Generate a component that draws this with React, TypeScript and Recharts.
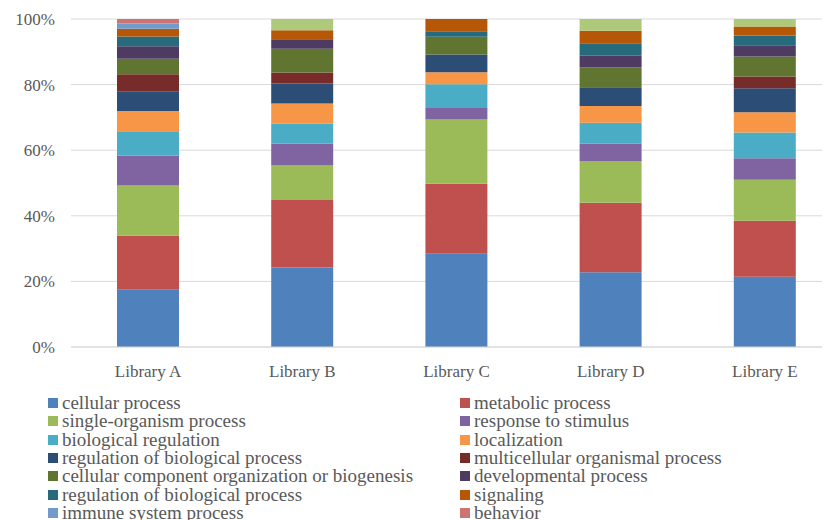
import { Bar, BarChart, CartesianGrid, Legend, XAxis, YAxis } from "recharts";

const categories = ["Library A", "Library B", "Library C", "Library D", "Library E"];

const cellularProcess = [17.4, 24.3, 28.4, 22.8, 21.4];
const metabolicProcess = [16.5, 20.6, 21.3, 21.2, 17.0];
const singleOrganismProcess = [15.3, 10.5, 19.6, 12.7, 12.5];
const responseToStimulus = [9.1, 6.7, 3.5, 5.3, 6.5];
const biologicalRegulation = [7.4, 6.0, 7.2, 6.4, 7.9];
const localization = [6.2, 6.2, 3.7, 5.1, 6.1];
const regulationOfBiologicalProcess = [6.0, 6.1, 5.4, 5.7, 7.3];
const multicellularOrganismalProcess = [5.2, 3.4, 0, 0, 3.6];
const cellularComponentOrganization = [4.7, 7.2, 5.4, 6.1, 6.1];
const developmentalProcess = [3.8, 2.9, 0, 3.5, 3.4];
const regulationOfBiologicalProcess2 = [3.0, 0, 1.7, 3.8, 3.0];
const signaling = [2.3, 2.8, 3.7, 3.8, 2.7];
const immuneSystemProcess = [1.6, 0, 0, 0, 0];
const behavior = [1.4, 0, 0, 0, 0];
const otherProcess = [0, 3.4, 0, 3.6, 2.3];

const yTicks = [0, 0.2, 0.4, 0.6, 0.8, 1];

const series = [
  { name: "cellular process", color: "#4F81BD", values: cellularProcess },
  { name: "metabolic process", color: "#C0504D", values: metabolicProcess },
  { name: "single-organism process", color: "#9BBB59", values: singleOrganismProcess },
  { name: "response to stimulus", color: "#8064A2", values: responseToStimulus },
  { name: "biological regulation", color: "#4BACC6", values: biologicalRegulation },
  { name: "localization", color: "#F79646", values: localization },
  { name: "regulation of biological process", color: "#2C4D75", values: regulationOfBiologicalProcess },
  { name: "multicellular organismal process", color: "#772C2A", values: multicellularOrganismalProcess },
  { name: "cellular component organization or biogenesis", color: "#5F7530", values: cellularComponentOrganization },
  { name: "developmental process", color: "#4D3B62", values: developmentalProcess },
  { name: "regulation of biological process", color: "#276A7C", values: regulationOfBiologicalProcess2 },
  { name: "signaling", color: "#B65708", values: signaling },
  { name: "immune system process", color: "#729ACA", values: immuneSystemProcess },
  { name: "behavior", color: "#CD7371", values: behavior },
  { name: "other", color: "#AFC97A", values: otherProcess },
];

const data = categories.map((cat, i) => {
  const row: Record<string, string | number> = { cat };
  series.forEach((s, j) => (row[`s${j}`] = s.values[i]));
  return row;
});

const FONT = "'Liberation Serif', serif";

const LegendBox = () => (
  <div
    style={{
      display: "grid",
      gridTemplateColumns: "412px 380px",
      paddingLeft: 40,
      height: 146,
      fontFamily: FONT,
      fontSize: 19,
      lineHeight: "18px",
      color: "#595959",
    }}
  >
    {series.map((s, i) => (
      <div key={i} style={{ display: "flex", alignItems: "center", height: 18.3, whiteSpace: "nowrap" }}>
        <span style={{ width: 10, height: 10, background: s.color, marginRight: 4, flexShrink: 0 }} />
        {s.name}
      </div>
    ))}
  </div>
);

export default function App() {
  return (
    <div style={{ width: 822, height: 512, overflow: "hidden" }}>
      <BarChart
        width={840}
        height={532}
        data={data}
        stackOffset="expand"
        barSize={62}
        margin={{ top: 11, right: 6, bottom: 0, left: 0 }}
      >
        <CartesianGrid vertical={false} stroke="#D9D9D9" />
        <XAxis
          dataKey="cat"
          height={47}
          stroke="#D9D9D9"
          tickLine={false}
          tickSize={8}
          tickMargin={10}
          tick={{ fill: "#595959", fontSize: 17, fontFamily: FONT }}
        />
        <YAxis
          width={63}
          domain={[0, 1]}
          ticks={yTicks}
          tickFormatter={(v: number) => `${Math.round(v * 100)}%`}
          axisLine={false}
          tickLine={false}
          tickMargin={10}
          tick={{ fill: "#595959", fontSize: 17, fontFamily: FONT }}
        />
        <Legend verticalAlign="bottom" content={() => <LegendBox />} wrapperStyle={{ left: 0, width: 840, height: 146 }} />
        {series.map((s, j) => (
          <Bar key={j} dataKey={`s${j}`} name={s.name} stackId="a" fill={s.color} isAnimationActive={false} />
        ))}
      </BarChart>
    </div>
  );
}
